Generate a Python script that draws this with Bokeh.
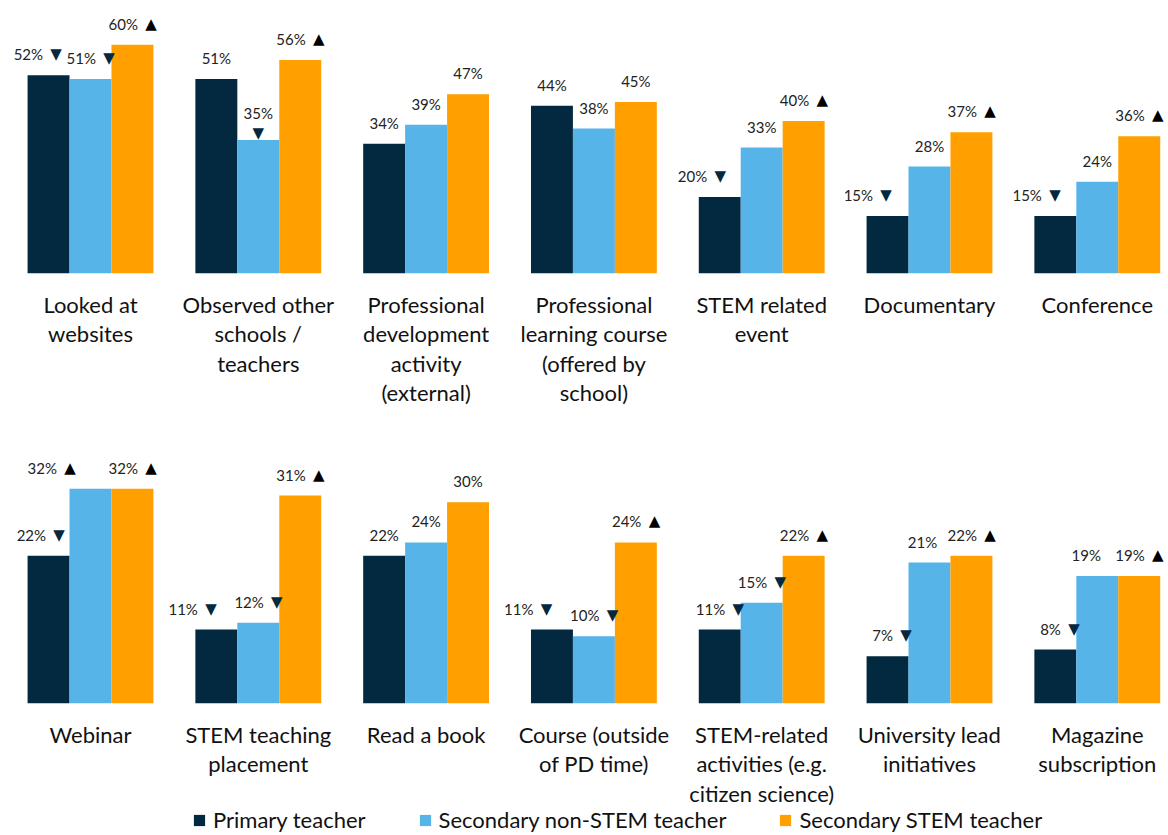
from bokeh.plotting import figure
from bokeh.models import Range1d, ColumnDataSource, Legend, LegendItem
from bokeh.core.properties import value
from bokeh.embed import file_html
from bokeh.resources import INLINE

# ---------------- data ----------------
series_names = ["Primary teacher", "Secondary non-STEM teacher", "Secondary STEM teacher"]

categories_top = [
    "Looked at\nwebsites",
    "Observed other\nschools /\nteachers",
    "Professional\ndevelopment\nactivity\n(external)",
    "Professional\nlearning course\n(offered by\nschool)",
    "STEM related\nevent",
    "Documentary",
    "Conference",
]
categories_bottom = [
    "Webinar",
    "STEM teaching\nplacement",
    "Read a book",
    "Course (outside\nof PD time)",
    "STEM-related\nactivities (e.g.\ncitizen science)",
    "University lead\ninitiatives",
    "Magazine\nsubscription",
]

primary_top = [52, 51, 34, 44, 20, 15, 15]
nonstem_top = [51, 35, 39, 38, 33, 28, 24]
stem_top = [60, 56, 47, 45, 40, 37, 36]

primary_bottom = [22, 11, 22, 11, 11, 7, 8]
nonstem_bottom = [32, 12, 24, 10, 15, 21, 19]
stem_bottom = [32, 31, 30, 24, 22, 22, 19]

# significance markers: "up" / "down" / ""
primary_top_sig = ["down", "", "", "", "down", "down", "down"]
nonstem_top_sig = ["down", "down", "", "", "", "", ""]
stem_top_sig = ["up", "up", "", "", "up", "up", "up"]
primary_bottom_sig = ["down", "down", "", "down", "down", "down", "down"]
nonstem_bottom_sig = ["up", "down", "", "down", "down", "", ""]
stem_bottom_sig = ["up", "up", "", "up", "up", "up", "up"]

# ---------------- style / layout ----------------
COLORS = ["#02293F", "#56B4E9", "#FF9F00"]
TEXT = "#222222"
FONT = "Lato"
W, H = 1168, 835
PX_X = 167.8          # pixels per category unit
PX_TOP = 3.807        # pixels per % in top row
PX_BOT = 6.70         # pixels per % in bottom row
BASE_TOP = 272.7      # baseline position from frame top (px)
BASE_BOT = 702.7
FIRST_CENTER = 90     # px of first group centre

# manual label nudges (pixels) as in original chart: (row, series, group) -> dx
nudges = {(0, 0, 0): -11, (0, 0, 4): -18, (0, 0, 5): -20, (0, 0, 6): -19,
          (1, 0, 0): -8, (1, 0, 1): -24, (1, 0, 3): -24, (1, 1, 0): -39,
          (1, 1, 5): -7, (1, 1, 6): -11}
below = {(0, 1, 1)}   # triangle placed under the number

x0 = -FIRST_CENTER / PX_X
p = figure(width=W, height=H,
           x_range=Range1d(x0, x0 + W / PX_X),
           y_range=Range1d(BASE_TOP / PX_TOP - H / PX_TOP, BASE_TOP / PX_TOP),
           output_backend="svg", toolbar_location=None,
           x_axis_location=None, y_axis_location=None, min_border=0)
p.extra_y_ranges = {"bottom": Range1d(BASE_BOT / PX_BOT - H / PX_BOT, BASE_BOT / PX_BOT)}
p.grid.visible = False
p.outline_line_color = None
p.background_fill_color = "white"

rows = [
    ("default", [primary_top, nonstem_top, stem_top],
     [primary_top_sig, nonstem_top_sig, stem_top_sig], categories_top),
    ("bottom", [primary_bottom, nonstem_bottom, stem_bottom],
     [primary_bottom_sig, nonstem_bottom_sig, stem_bottom_sig], categories_bottom),
]

legend_renderers = []
for r, (rname, vals, sigs, cats) in enumerate(rows):
    groups = list(range(len(cats)))
    for s in range(3):
        src = ColumnDataSource(dict(x=[g + (s - 1) * 0.25 for g in groups], top=vals[s]))
        rend = p.vbar(x="x", top="top", bottom=0, width=0.25, source=src,
                      fill_color=COLORS[s], line_color=None, y_range_name=rname)
        if r == 0:
            legend_renderers.append(rend)

    # category labels
    p.text(x=groups, y=[0] * len(groups), text=cats, y_range_name=rname,
           text_align="center", text_baseline="top", y_offset=18,
           text_font=value(FONT), text_font_size="22px", text_color="#111111",
           text_line_height=1.08)

    plain = dict(x=[], y=[], t=[])
    numr = dict(x=[], y=[], t=[])
    tri_up = dict(x=[], y=[], t=[])
    tri_dn = dict(x=[], y=[], t=[])
    num_c2 = dict(x=[], y=[], t=[])
    tri_below = dict(x=[], y=[], t=[])
    for s in range(3):
        for g in groups:
            v = vals[s][g]
            sig = sigs[s][g]
            xc = g + (s - 1) * 0.25 + nudges.get((r, s, g), 0) / PX_X
            lab = f"{v}%"
            if sig == "":
                plain["x"].append(xc); plain["y"].append(v); plain["t"].append(lab)
            elif (r, s, g) in below:
                num_c2["x"].append(xc); num_c2["y"].append(v); num_c2["t"].append(lab)
                tri_below["x"].append(xc); tri_below["y"].append(v)
                tri_below["t"].append("▼" if sig == "down" else "▲")
            else:
                numr["x"].append(xc + 5.5 / PX_X); numr["y"].append(v); numr["t"].append(lab)
                d = tri_dn if sig == "down" else tri_up
                d["x"].append(xc + 12.8 / PX_X); d["y"].append(v)
                d["t"].append("▼" if sig == "down" else "▲")

    common = dict(x="x", y="y", text="t", y_range_name=rname, text_baseline="middle",
                  text_color=TEXT, text_font=value(FONT), text_font_size="15px")
    p.text(source=ColumnDataSource(plain), text_align="center", y_offset=-21, **common)
    p.text(source=ColumnDataSource(numr), text_align="right", y_offset=-21, **common)
    p.text(source=ColumnDataSource(num_c2), text_align="center", y_offset=-27, **common)
    tcommon = dict(x="x", y="y", text="t", y_range_name=rname, text_baseline="middle",
                   text_font=value("DejaVu Sans"), text_font_size="15px")
    p.text(source=ColumnDataSource(tri_up), text_align="left", y_offset=-21,
           text_color="#000000", **tcommon)
    p.text(source=ColumnDataSource(tri_dn), text_align="left", y_offset=-21,
           text_color=COLORS[0], **tcommon)
    p.text(source=ColumnDataSource(tri_below), text_align="center", y_offset=-7,
           text_color=COLORS[0], **tcommon)

legend = Legend(items=[LegendItem(label=n, renderers=[rr]) for n, rr in zip(series_names, legend_renderers)],
                orientation="horizontal", location=(192, 2),
                label_text_font=FONT, label_text_font_size="22px", label_text_color="#111111",
                glyph_width=14, glyph_height=14, label_standoff=7, spacing=52,
                padding=0, margin=0, border_line_alpha=0, background_fill_alpha=0)
p.add_layout(legend)

open("out.html", "w").write(file_html(p, INLINE))
